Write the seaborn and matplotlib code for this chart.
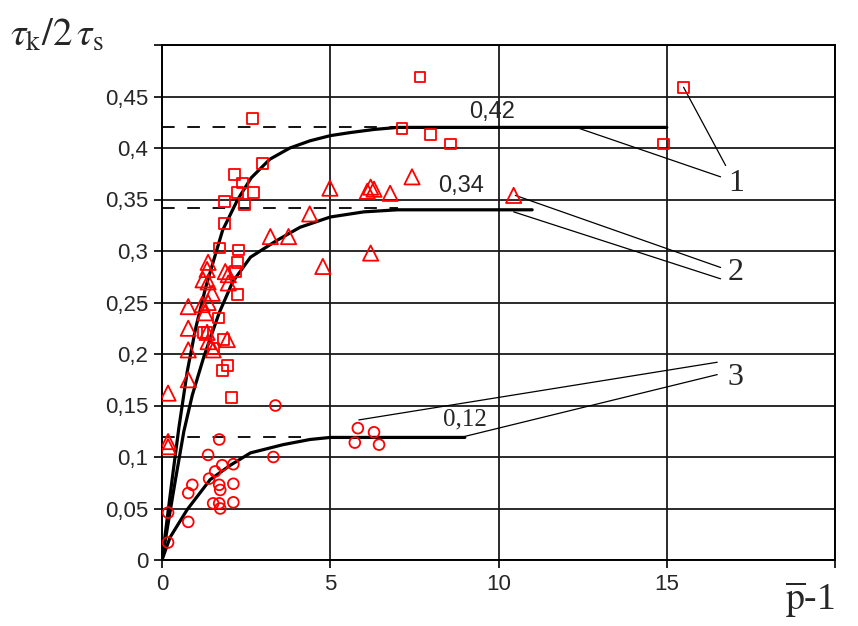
import numpy as np
import pandas as pd
import seaborn as sns
import matplotlib.pyplot as plt

# data
# series 1 (squares)
sq_x = [2.69, 2.99, 2.15, 2.39, 2.24, 2.72, 1.85, 2.45, 1.85, 1.70, 2.27, 2.24, 2.18,
        2.24, 1.67, 1.34, 1.22, 1.52, 1.82, 1.94, 1.79, 2.06,
        7.13, 7.97, 8.57, 7.67, 15.5, 14.9]
sq_y = [0.429, 0.385, 0.374, 0.366, 0.357, 0.357, 0.348, 0.345, 0.327, 0.303, 0.301, 0.289, 0.280,
        0.258, 0.235, 0.221, 0.221, 0.205, 0.214, 0.189, 0.184, 0.158,
        0.419, 0.413, 0.404, 0.469, 0.459, 0.404]

# series 2 (triangles)
tr_x = [4.99, 6.10, 6.20, 6.30, 6.78, 7.43, 10.45, 4.39, 3.22, 3.76, 4.78, 6.20,
        1.37, 1.34, 1.88, 1.97, 1.22, 1.37, 1.97, 1.49, 0.78, 1.19, 1.37, 1.28,
        0.78, 1.34, 1.37, 1.94, 0.78, 1.52, 0.78, 0.18, 0.18, 0.18]
tr_y = [0.361, 0.358, 0.362, 0.360, 0.356, 0.372, 0.354, 0.336, 0.314, 0.314, 0.285, 0.298,
        0.289, 0.282, 0.280, 0.277, 0.272, 0.270, 0.269, 0.259, 0.246, 0.248, 0.250, 0.240,
        0.225, 0.221, 0.212, 0.214, 0.204, 0.204, 0.175, 0.162, 0.115, 0.110]

# series 3 (circles)
ci_x = [3.37, 1.70, 1.37, 3.31, 2.12, 1.79, 1.58, 1.40, 0.90, 0.78, 1.70, 1.73,
        2.12, 1.52, 1.70, 1.73, 2.12, 0.78, 0.18, 0.18, 5.82, 5.73, 6.30, 6.45]
ci_y = [0.150, 0.117, 0.102, 0.100, 0.093, 0.092, 0.086, 0.079, 0.073, 0.065, 0.073, 0.068,
        0.074, 0.055, 0.055, 0.050, 0.056, 0.037, 0.046, 0.017, 0.128, 0.114, 0.124, 0.112]

# fitted curves (traced)
c1_x = [0, 0.3, 0.5, 0.75, 1.0, 1.3, 1.8, 2.25, 2.65, 3.2, 3.8, 4.4, 5.0, 5.6, 6.3, 7.0, 15.0]
c1_y = [0, 0.078, 0.128, 0.183, 0.225, 0.265, 0.32, 0.35, 0.371, 0.389, 0.40, 0.407, 0.412, 0.415, 0.418, 0.42, 0.42]
c2_x = [0, 0.4, 0.65, 0.9, 1.25, 1.7, 2.1, 2.63, 3.4, 4.1, 5.0, 6.0, 7.0, 11.0]
c2_y = [0, 0.078, 0.125, 0.16, 0.198, 0.24, 0.27, 0.294, 0.31, 0.323, 0.333, 0.338, 0.34, 0.34]
c3_x = [0, 0.24, 0.75, 1.43, 2.03, 2.63, 3.6, 4.4, 5.0, 9.0]
c3_y = [0, 0.022, 0.049, 0.078, 0.092, 0.104, 0.112, 0.117, 0.119, 0.119]

limits = [0.42, 0.342, 0.119]
limit_ends = [7.0, 7.0, 4.2]
limit_labels = ['0,42', '0,34', '0,12']

# leader lines to the curve numbers
lead_x0 = [15.5, 12.4, 10.5, 10.45, 5.85, 9.0]
lead_y0 = [0.459, 0.419, 0.354, 0.338, 0.136, 0.12]
lead_x1 = [16.75, 16.6, 16.6, 16.6, 16.5, 16.5]
lead_y1 = [0.383, 0.372, 0.284, 0.273, 0.192, 0.18]
curve_names = ['1', '2', '3']
curve_name_y = [0.366, 0.279, 0.177]

x_ticks = [0, 5, 10, 15, 20]
x_labels = ['0', '5', '10', '15', '']
y_ticks = [0, 0.05, 0.1, 0.15, 0.2, 0.25, 0.3, 0.35, 0.4, 0.45, 0.5]
y_labels = ['0', '0,05', '0,1', '0,15', '0,2', '0,25', '0,3', '0,35', '0,4', '0,45', '']

sns.set_style('white')
plt.rcParams['font.family'] = ['Liberation Sans', 'DejaVu Sans']
plt.rcParams['mathtext.fontset'] = 'stix'

fig = plt.figure(figsize=(8.58, 6.26), dpi=100)
ax = fig.add_axes([162 / 858, 1 - 560 / 626, (835 - 162) / 858, (560 - 45) / 626])

ax.grid(True, color='#1a1a1a', lw=1.3, zorder=0)
ax.set_axisbelow(True)

# dashed asymptote lines
for lv, le in zip(limits, limit_ends):
    ax.plot([0, le], [lv, lv], color='black', lw=1.3, dashes=(7, 7), zorder=2)

# curves
for cx, cy in zip([c1_x, c2_x, c3_x], [c1_y, c2_y, c3_y]):
    sns.lineplot(x=cx, y=cy, color='black', lw=2.3, sort=False, estimator=None, ax=ax, zorder=3)

# leader lines
for x0, y0, x1, y1 in zip(lead_x0, lead_y0, lead_x1, lead_y1):
    ax.plot([x0, x1], [y0, y1], color='black', lw=0.9, zorder=3)

# markers
red = '#ff0000'
for xs, ys, mk, sz in [(sq_x, sq_y, 's', 60), (tr_x, tr_y, '^', 120), (ci_x, ci_y, 'o', 60)]:
    df = pd.DataFrame({'x': xs, 'y': ys})
    sns.scatterplot(data=df, x='x', y='y', marker=mk, s=sz, ax=ax, zorder=4)
    pts = ax.collections[-1]
    pts.set_facecolor('none')
    pts.set_edgecolor(red)
    pts.set_linewidth(1.3)

# value labels
ax.text(9.8, 0.435, limit_labels[0], fontsize=17, ha='center', va='center', zorder=5)
ax.text(8.9, 0.363, limit_labels[1], fontsize=17, ha='center', va='center', zorder=5)
ax.text(9.0, 0.136, limit_labels[2], fontsize=18, ha='center', va='center',
        family='Liberation Serif', zorder=5)

for nm, ny in zip(curve_names, curve_name_y):
    ax.text(17.05, ny, nm, fontsize=23, ha='center', va='center',
            family='Liberation Serif', zorder=5)

ax.set_xlim(0, 20)
ax.set_ylim(0, 0.5)
ax.set_xticks(x_ticks, x_labels)
ax.set_yticks(y_ticks, y_labels)
ax.tick_params(axis='both', direction='out', length=6, width=1.2, color='black',
               labelsize=16, pad=4, left=True, bottom=True)
for sp in ax.spines.values():
    sp.set_color('black')
    sp.set_linewidth(1.4)
ax.set_xlabel('')
ax.set_ylabel('')

fig.text(10 / 858, 1 - 55 / 626, r'$\tau_{\mathrm{k}}/2\,\tau_{\mathrm{s}}$', fontsize=28,
         family='Liberation Serif', ha='left', va='bottom')
fig.text(835 / 858, 1 - 620 / 626, r'$\overline{\mathrm{p}}$-1', fontsize=27,
         family='Liberation Serif', ha='right', va='bottom')

fig.savefig('out.png', dpi=100)
